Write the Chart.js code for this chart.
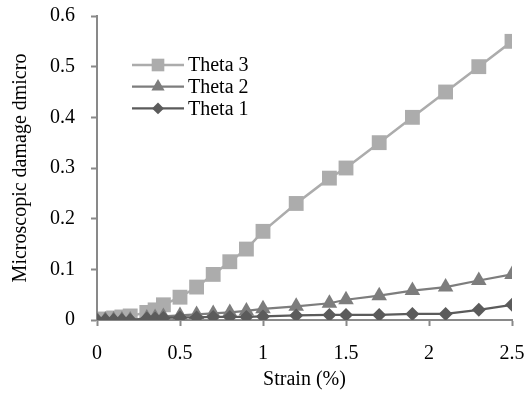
<!DOCTYPE html>
<html>
<head>
<meta charset="utf-8">
<script src="https://cdn.jsdelivr.net/npm/chart.js@4/dist/chart.umd.min.js"></script>
<style>
  html, body { margin: 0; padding: 0; background: #fff; }
  #wrap { width: 527px; height: 396px; }
</style>
</head>
<body>
<div id="wrap"><canvas id="damageChart" width="527" height="396"></canvas></div>
<script>
// strain (%) values shared by all three series
const strain = [0, 0.05, 0.1, 0.15, 0.2, 0.3, 0.35, 0.4, 0.5, 0.6, 0.7, 0.8, 0.9, 1.0, 1.2, 1.4, 1.5, 1.7, 1.9, 2.1, 2.3, 2.5];
const theta3 = [0, 0.002, 0.004, 0.006, 0.008, 0.015, 0.02, 0.03, 0.045, 0.065, 0.09, 0.115, 0.14, 0.175, 0.23, 0.28, 0.30, 0.35, 0.40, 0.45, 0.50, 0.55];
const theta2 = [0, 0, 0, 0, 0, 0.004, 0.005, 0.007, 0.009, 0.011, 0.013, 0.015, 0.018, 0.022, 0.027, 0.033, 0.04, 0.048, 0.058, 0.065, 0.078, 0.09];
const theta1 = [0, 0, 0, 0, 0, 0.003, 0.003, 0.004, 0.005, 0.005, 0.006, 0.006, 0.006, 0.007, 0.009, 0.01, 0.01, 0.01, 0.012, 0.012, 0.02, 0.03];
const seriesNames = ['Theta 1', 'Theta 2', 'Theta 3'];
const xTicks = [0, 0.5, 1, 1.5, 2, 2.5];
const yTicks = [0, 0.1, 0.2, 0.3, 0.4, 0.5, 0.6];

const FONT = '"Liberation Serif", "Times New Roman", serif';
const AXIS_GREY = '#898989';

function pts(ys) {
  return strain.map((x, i) => ({ x: x, y: ys[i] }));
}

// legend drawn inside the plot, Theta 3 on top
const insideLegend = {
  id: 'insideLegend',
  afterDraw(chart) {
    const ctx = chart.ctx;
    const sets = chart.data.datasets.slice().reverse();
    ctx.save();
    sets.forEach((ds, i) => {
      const y = 65 + i * 21.7;
      ctx.strokeStyle = ds.borderColor;
      ctx.lineWidth = ds.borderWidth;
      ctx.beginPath();
      ctx.moveTo(132, y);
      ctx.lineTo(184, y);
      ctx.stroke();
      drawMarker(ctx, ds.pointStyle, 158, y, ds.pointRadius * 0.85, ds.pointBackgroundColor);
      ctx.fillStyle = '#000';
      ctx.font = '20px ' + FONT;
      ctx.textBaseline = 'middle';
      ctx.textAlign = 'left';
      ctx.fillText(ds.label, 188, y + 1);
    });
    ctx.restore();
  }
};

function drawMarker(ctx, style, x, y, r, color) {
  ctx.fillStyle = color;
  ctx.beginPath();
  if (style === 'rect') {
    const s = r * Math.SQRT1_2;
    ctx.rect(x - s, y - s, 2 * s, 2 * s);
  } else if (style === 'triangle') {
    ctx.moveTo(x, y - r);
    ctx.lineTo(x + r * 0.866, y + r * 0.5);
    ctx.lineTo(x - r * 0.866, y + r * 0.5);
    ctx.closePath();
  } else {
    ctx.moveTo(x, y - r);
    ctx.lineTo(x + r, y);
    ctx.lineTo(x, y + r);
    ctx.lineTo(x - r, y);
    ctx.closePath();
  }
  ctx.fill();
}

const ctx = document.getElementById('damageChart').getContext('2d');
const damageChart = new Chart(ctx, {
  type: 'scatter',
  data: {
    datasets: [{
      label: seriesNames[0],
      data: pts(theta1),
      showLine: true,
      borderColor: '#5b5b5b',
      borderWidth: 2.2,
      pointStyle: 'rectRot',
      pointRadius: 7,
      pointBackgroundColor: '#5b5b5b',
      pointBorderWidth: 0
    }, {
      label: seriesNames[1],
      data: pts(theta2),
      showLine: true,
      borderColor: '#7d7d7d',
      borderWidth: 2.2,
      pointStyle: 'triangle',
      pointRadius: 9,
      pointBackgroundColor: '#7d7d7d',
      pointBorderWidth: 0
    }, {
      label: seriesNames[2],
      data: pts(theta3),
      showLine: true,
      borderColor: '#acacac',
      borderWidth: 2.5,
      pointStyle: 'rect',
      pointRadius: 10.5,
      pointBackgroundColor: '#acacac',
      pointBorderWidth: 0
    }]
  },
  options: {
    responsive: false,
    animation: false,
    events: [],
    layout: { padding: { top: 16, right: 15, left: 0, bottom: 0 } },
    plugins: {
      legend: { display: false },
      tooltip: { enabled: false }
    },
    scales: {
      x: {
        type: 'linear',
        min: 0,
        max: 2.5,
        afterBuildTicks: (scale) => { scale.ticks = xTicks.map(v => ({ value: v })); },
        afterFit: (scale) => {
          scale.height = 76;
          scale.paddingLeft = 0;
          scale.paddingRight = 0;
        },
        ticks: {
          font: { family: FONT, size: 20 },
          color: '#000',
          padding: 16,
          maxRotation: 0,
          callback: (v) => String(v)
        },
        grid: { drawOnChartArea: false, color: AXIS_GREY, tickLength: 6, tickWidth: 2 },
        border: { color: AXIS_GREY, width: 2 },
        title: {
          display: true,
          text: 'Strain (%)',
          font: { family: FONT, size: 20 },
          color: '#000',
          padding: { top: 0, bottom: 4 }
        }
      },
      y: {
        type: 'linear',
        min: 0,
        max: 0.6,
        afterBuildTicks: (scale) => { scale.ticks = yTicks.map(v => ({ value: v })); },
        afterFit: (scale) => {
          scale.width = 97;
          scale.paddingTop = 0;
          scale.paddingBottom = 0;
        },
        ticks: {
          font: { family: FONT, size: 20 },
          color: '#000',
          padding: 16,
          callback: (v) => String(v)
        },
        grid: { drawOnChartArea: false, color: AXIS_GREY, tickLength: 6, tickWidth: 2 },
        border: { color: AXIS_GREY, width: 2 },
        title: {
          display: true,
          text: 'Microscopic damage dmicro',
          font: { family: FONT, size: 20 },
          color: '#000',
          padding: { top: 9, bottom: 0 }
        }
      }
    }
  },
  plugins: [insideLegend]
});
</script>
</body>
</html>
